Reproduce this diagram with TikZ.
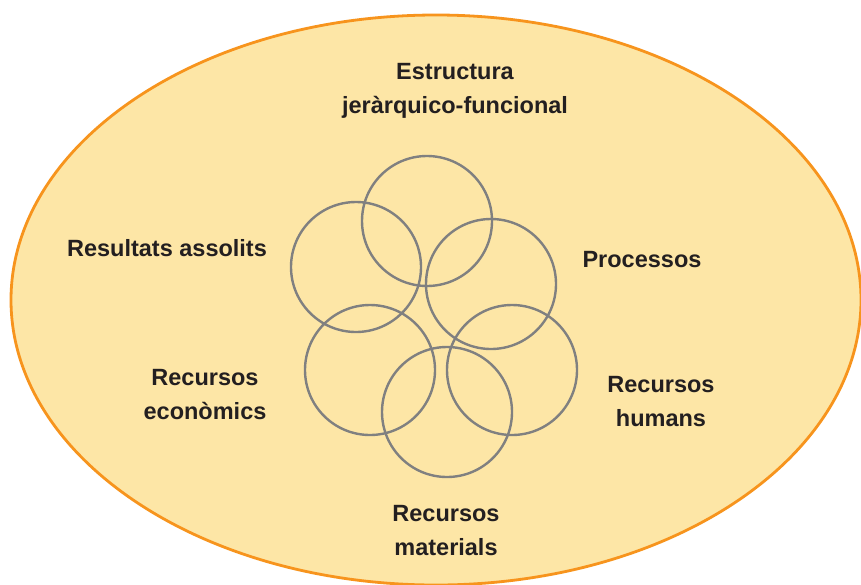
\documentclass[tikz,border=0pt]{standalone}
\usepackage{fontspec}
\setmainfont{Liberation Sans}
\begin{document}
\begin{tikzpicture}[x=1pt,y=-1pt,
  lbl/.style={font=\fontsize{23.5}{34}\selectfont\bfseries, text=textdark, align=center, inner sep=0pt},
  ring/.style={draw=ringgray, line width=2.4pt, circle, minimum size=130pt, inner sep=0pt}]
\definecolor{fillyel}{HTML}{FDE6A6}
\definecolor{edgeor}{HTML}{F7941D}
\definecolor{ringgray}{HTML}{808080}
\definecolor{textdark}{HTML}{231F20}
\useasboundingbox (0,0) rectangle (861,584);
\clip (0,0) rectangle (861,584);
\fill[white] (0,0) rectangle (861,584);
\draw[fill=fillyel, draw=edgeor, line width=2.8pt] (436,300) ellipse [x radius=425, y radius=285];
\node[ring] (c1) at (427,221) {};
\node[ring] (c2) at (356,267) {};
\node[ring] (c3) at (491,284) {};
\node[ring] (c4) at (370,370) {};
\node[ring] (c5) at (512,370) {};
\node[ring] (c6) at (447,412) {};
\node[lbl] (t1) at (455,91) {Estructura\\jeràrquico-funcional};
\node[lbl] (t2) at (167,248) {Resultats assolits};
\node[lbl] (t3) at (642,260) {Processos};
\node[lbl] (t4) at (205,395) {Recursos\\econòmics};
\node[lbl] (t5) at (661,402) {Recursos\\humans};
\node[lbl] (t6) at (446,531) {Recursos\\materials};
\end{tikzpicture}
\end{document}
